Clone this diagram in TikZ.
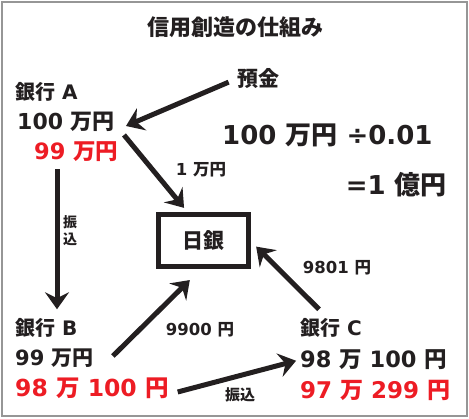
\documentclass[tikz,border=0pt]{standalone}
\usepackage{fontspec}
\setmainfont{Noto Sans CJK JP}
\newfontfamily\dejavu{DejaVu Sans}
\usetikzlibrary{arrows.meta}
\definecolor{inkgray}{RGB}{35,31,32}
\definecolor{bankred}{RGB}{237,28,36}
\definecolor{framegray}{RGB}{150,150,150}
\newcommand\jp[1]{{\rmfamily #1}}

\begin{document}
\begin{tikzpicture}[x=1pt,y=-1pt,
    ink/.style={text=inkgray,font=\dejavu\bfseries\fontsize{21}{24}\selectfont,inner sep=1pt},
    redline/.style={ink,text=bankred,font=\dejavu\bfseries\fontsize{22.5}{26}\selectfont},
    note/.style={ink,font=\dejavu\bfseries\fontsize{16.5}{19}\selectfont},
    arr/.style={draw=inkgray,line width=5pt,-{Stealth[length=17pt,width=24pt,inset=6pt]}}]
    \useasboundingbox (0,0) rectangle (469,419);
    \draw[framegray,line width=2pt] (2,2) rectangle (467,416);
    \node[ink,font=\rmfamily\bfseries\fontsize{22}{26}\selectfont] (title) at (235,27) {信用創造の仕組み};
    % bank A
    \node[ink,anchor=west,font=\dejavu\bfseries\fontsize{20}{24}\selectfont] (a0) at (14,92) {\jp{銀行} A};
    \node[ink,anchor=west,font=\dejavu\bfseries\fontsize{22}{26}\selectfont] (a1) at (16,122) {100 \jp{万円}};
    \node[redline,anchor=west] (a2) at (33,152) {99 \jp{万円}};
    \node[ink,anchor=west,font=\rmfamily\bfseries\fontsize{21}{24}\selectfont] (yokin) at (236,79) {預金};
    % formula
    \node[ink,anchor=west,font=\dejavu\bfseries\fontsize{26}{30}\selectfont] (f1) at (221,135) {100 \jp{万円} ÷0.01};
    \node[ink,anchor=east,font=\dejavu\bfseries\fontsize{26}{30}\selectfont] (f2) at (448,185) {=1 \jp{億円}};
    % central bank
    \node[draw=inkgray,line width=5pt,minimum width=90pt,minimum height=52pt,
          ink,font=\rmfamily\bfseries\fontsize{21}{24}\selectfont] (boj) at (203,241) {日銀};
    % bank B
    \node[ink,anchor=west,font=\dejavu\bfseries\fontsize{20}{24}\selectfont] (b0) at (14,328) {\jp{銀行} B};
    \node[ink,anchor=west] (b1) at (14,358) {99 \jp{万円}};
    \node[redline,anchor=west,font=\dejavu\bfseries\fontsize{23.5}{26}\selectfont] (b2) at (14,388) {98 \jp{万} 100 \jp{円}};
    % bank C
    \node[ink,anchor=west,font=\dejavu\bfseries\fontsize{20}{24}\selectfont] (c0) at (299,328) {\jp{銀行} C};
    \node[ink,anchor=west,font=\dejavu\bfseries\fontsize{22.5}{26}\selectfont] (c1) at (299,360) {98 \jp{万} 100 \jp{円}};
    \node[redline,anchor=west,font=\dejavu\bfseries\fontsize{23}{26}\selectfont] (c2) at (299,390) {97 \jp{万} 299 \jp{円}};
    % amounts
    \node[note] (n1) at (201,170) {1 \jp{万円}};
    \node[note,align=center,font=\rmfamily\bfseries\fontsize{14}{17}\selectfont] (n2) at (70,231) {振\\込};
    \node[note] (n3) at (200,330) {9900 \jp{円}};
    \node[note] (n4) at (337,268) {9801 \jp{円}};
    \node[note,font=\rmfamily\bfseries\fontsize{15}{17}\selectfont] (n5) at (240,395) {振込};
    % flows
    \draw[arr,shorten <=8pt] (yokin.west) -- ([xshift=10pt,yshift=-4pt]a1.east);
    \draw[arr,shorten >=6pt] ([xshift=8pt,yshift=-2pt]a1.south east) -- (boj.118);
    \draw[arr] ([xshift=24pt,yshift=-6pt]a2.south west) -- ([xshift=43pt,yshift=8pt]b0.north west);
    \draw[arr,shorten >=15pt] ([xshift=18pt,yshift=2pt]b1.east) -- (boj.265);
    \draw[arr,shorten >=3pt] ([xshift=8pt,yshift=-4pt]b2.east) -- (c1.west);
    \draw[arr,shorten >=8pt] ([xshift=-12pt,yshift=8pt]c0.north) -- (boj.east);
\end{tikzpicture}
\end{document}
